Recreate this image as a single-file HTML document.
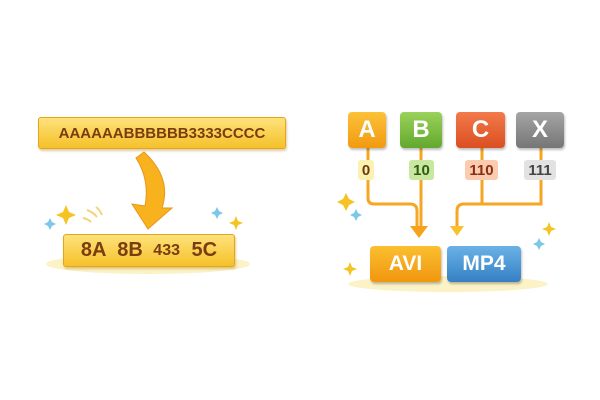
<!DOCTYPE html>
<html><head><style>
body{margin:0;background:#fff;width:600px;height:400px;overflow:hidden;position:relative;font-family:"Liberation Sans",sans-serif}
.bar{position:absolute;background:linear-gradient(#fde27a,#f6c12a);border:1px solid #e3a51c;border-radius:3px;color:#7a3d10;font-weight:bold;display:flex;align-items:center;justify-content:center;box-shadow:1px 2px 2px rgba(180,130,20,.4)}
.box{position:absolute;border-radius:4px;color:#fff;font-weight:bold;display:flex;align-items:center;justify-content:center;font-size:24px;box-shadow:1px 2px 2px rgba(0,0,0,.25)}
.lab{position:absolute;border-radius:3px;font-weight:bold;font-size:15px;display:flex;align-items:center;justify-content:center;height:20px;top:160px}
</style></head><body>
<svg width="600" height="400" style="position:absolute;left:0;top:0">
<ellipse cx="148" cy="264" rx="102" ry="10" fill="#fbf2c6"/>
<ellipse cx="448" cy="284" rx="100" ry="8" fill="#fbf2c6"/>
<path d="M144 152 Q172 178 162 208 L172 208 L148 229 L132 204 L145 206 Q150 180 136 158 Z" fill="#f8b21e" stroke="#e9961a" stroke-width="1"/>
<g fill="none" stroke="#f5a623" stroke-width="3" stroke-linecap="round">
<path d="M368 148 V198 Q368 204 374 204 H410 Q417 204 417 211 V226"/>
<path d="M421 148 V226"/>
<path d="M482 148 V204 M541 148 V204 H464 Q457 204 457 211 V226"/>
</g>
<path d="M410 226 H428 L419 238 Z" fill="#f6a21c"/>
<path d="M450 226 H464 L457 236 Z" fill="#f8c12d"/>
<g fill="#f5c422"><path d="M66 205 l3 7 7 3 -7 3 -3 7 -3 -7 -7 -3 7 -3z"/><path d="M236 216 l2 5 5 2 -5 2 -2 5 -2 -5 -5 -2 5 -2z"/><path d="M346 193 l3 6 6 3 -6 3 -3 6 -3 -6 -6 -3 6 -3z"/><path d="M549 222 l2 5 5 2 -5 2 -2 5 -2 -5 -5 -2 5 -2z"/><path d="M350 262 l2 5 5 2 -5 2 -2 5 -2 -5 -5 -2 5 -2z"/></g>
<g fill="#7dc8ea"><path d="M50 218 l2 4 4 2 -4 2 -2 4 -2 -4 -4 -2 4 -2z"/><path d="M217 207 l2 4 4 2 -4 2 -2 4 -2 -4 -4 -2 4 -2z"/><path d="M356 209 l2 4 4 2 -4 2 -2 4 -2 -4 -4 -2 4 -2z"/><path d="M539 238 l2 4 4 2 -4 2 -2 4 -2 -4 -4 -2 4 -2z"/></g>
<g stroke="#f5d27a" stroke-width="2" fill="none"><path d="M87 210 q6 2 10 7"/><path d="M83 218 q5 1 8 4"/><path d="M96 207 q4 3 6 8"/></g>
</svg>
<div class="bar" style="left:38px;top:117px;width:246px;height:30px;font-size:15px">AAAAAABBBBBB3333CCCC</div>
<div class="bar" style="left:63px;top:234px;width:170px;height:31px;font-size:20px;word-spacing:6px">8A 8B <span style="font-size:16px">&nbsp;433</span>&nbsp;5C</div>
<div class="box" style="left:348px;top:112px;width:38px;height:36px;background:linear-gradient(#fbc23a,#f29a10)">A</div>
<div class="box" style="left:400px;top:112px;width:42px;height:36px;background:linear-gradient(#9ad25a,#63a82e)">B</div>
<div class="box" style="left:456px;top:112px;width:49px;height:36px;background:linear-gradient(#f27a4a,#db4f22)">C</div>
<div class="box" style="left:516px;top:112px;width:48px;height:36px;background:linear-gradient(#a5a5a5,#767676)">X</div>
<div class="lab" style="left:358px;width:16px;background:#fbf1b0;color:#6b3a10">0</div>
<div class="lab" style="left:409px;width:25px;background:#c8e7a0;color:#2f5a10">10</div>
<div class="lab" style="left:465px;width:33px;background:#fbcbb0;color:#8a2e10">110</div>
<div class="lab" style="left:524px;width:32px;background:#e2e2e2;color:#444">111</div>
<div class="box" style="left:370px;top:246px;width:71px;height:36px;background:linear-gradient(#fbbf30,#f0960f);font-size:21px">AVI</div>
<div class="box" style="left:447px;top:246px;width:74px;height:36px;background:linear-gradient(#6ab2e6,#3680c4);font-size:21px">MP4</div>
</body></html>
